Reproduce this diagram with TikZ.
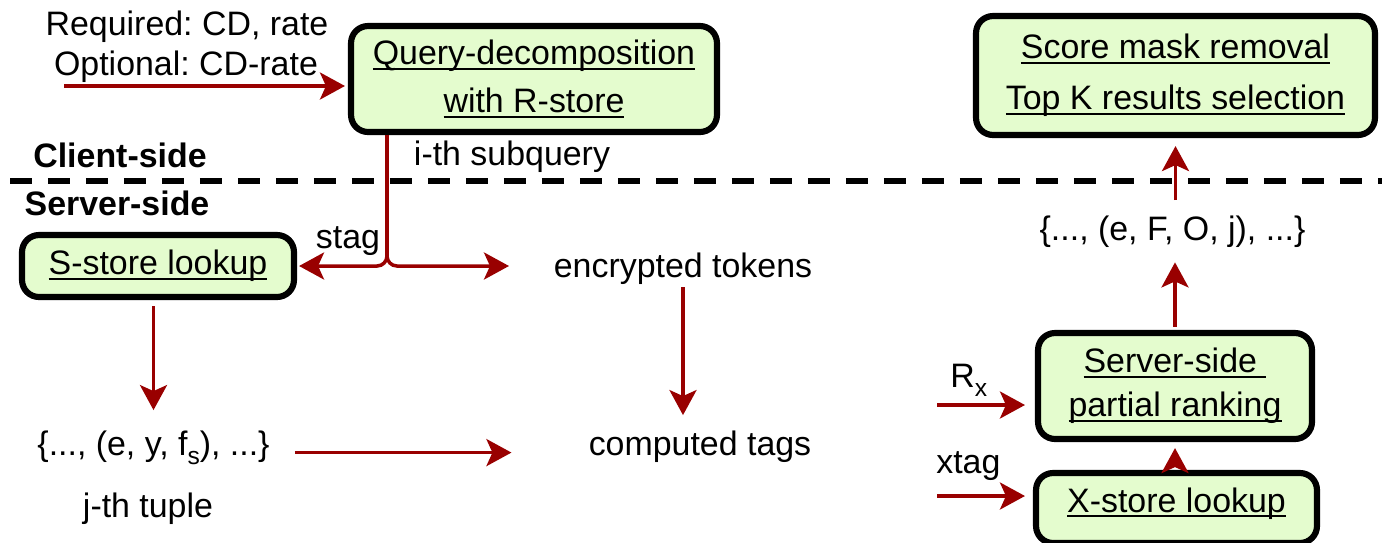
\documentclass[tikz,border=0pt]{standalone}
\usepackage{fontspec}
\setmainfont{Liberation Sans}
\usetikzlibrary{arrows.meta}
\frenchspacing
\definecolor{boxgreen}{RGB}{228,252,206}
\definecolor{arrred}{RGB}{153,0,0}
\newsavebox\ulbox
\newcommand{\ulx}[1]{\sbox\ulbox{#1}\rlap{\rule[-0.15em]{\wd\ulbox}{0.06em}}\usebox\ulbox}
\newcommand{\fsz}{\fontsize{19.3pt}{27pt}\selectfont}
\newcommand{\subx}[1]{\raisebox{-0.28em}{\fontsize{14pt}{14pt}\selectfont #1}}
\begin{document}
\begin{tikzpicture}[x=0.02cm,y=-0.02cm,
  txt/.style={font=\fsz, inner sep=0pt, anchor=base},
  boldtxt/.style={font=\fsz\bfseries, inner sep=0pt, anchor=base},
  box/.style={draw=black, line width=3.5pt, rounded corners=0.34cm, fill=boxgreen,
    align=center, inner sep=0pt, font=\fsz},
  arr/.style={draw=arrred, line width=2pt,
    -{Stealth[length=0.5cm, width=0.54cm, inset=0.12cm]}},
  divider/.style={draw=black, line width=0.12cm, dash pattern=on 0.44cm off 0.32cm}
]
\useasboundingbox (0,0) rectangle (1382,542);

% client side
\node[txt] (req) at (187,35) {Required: CD, rate};
\node[txt] (opt) at (186,75) {Optional: CD-rate};
\coordinate (qin) at (64,86);
\node[box, minimum width=7.32cm, minimum height=2.12cm] (q) at (534,79)
  {\ulx{Query-decomposition}\\[0.5pt]\ulx{with R-store}};
\draw[arr, shorten >=0.06cm] (qin) -- (qin -| q.west);

\node[box, minimum width=7.98cm, minimum height=2.38cm] (T) at (1175.5,75.5)
  {\ulx{Score mask removal}\\[2pt]\ulx{Top K results selection}};

\node[boldtxt] (client) at (120,167) {Client-side};
\node[boldtxt] (server) at (117,215) {Server-side};
\coordinate (dl) at (10,181);
\coordinate (dr) at (1382,181);
\draw[divider] (dl) -- (dr);

\node[txt] (ith) at (512,165) {i-th subquery};
\node[txt] (stag) at (348,248) {stag};

% server side
\node[box, minimum width=5.44cm, minimum height=1.24cm] (S) at (158,266)
  {\ulx{S-store lookup}};
\node[txt] (enc) at (683,277) {encrypted tokens};
\coordinate (etip) at (509,266);
\draw[arr, rounded corners=0.2cm, shorten >=0.04cm] (q.south -| 387,0) |- (S.east);
\draw[arr, rounded corners=0.2cm] (q.south -| 387,0) |- (etip);

\node[txt] (tuple) at (153.5,455) {\{..., (e, y, f\subx{s}), ...\}};
\node[txt] (jth) at (148,517) {j-th tuple};
\node[txt] (comp) at (700,455) {computed tags};

\draw[arr, shorten <=0.12cm, shorten >=0.4cm] (S.south -| tuple.north) -- (tuple.north);
\draw[arr, shorten <=0.06cm, shorten >=0.3cm] (enc.south) -- (enc.south |- comp.north);
\draw[arr, shorten <=0.5cm, shorten >=1.54cm] ([yshift=-0.1cm]tuple.east) -- ([yshift=-0.1cm]tuple.east -| comp.west);

% right side
\node[txt] (set) at (1172.5,240) {\{..., (e, F, O, j), ...\}};
\node[box, minimum width=5.48cm, minimum height=2.12cm] (P) at (1175,386)
  {\ulx{Server-side\ }\\[-2pt]\ulx{partial ranking}};
\node[box, minimum width=5.62cm, minimum height=1.4cm, text depth=0.33cm] (X) at (1176.5,508)
  {\ulx{X-store lookup}};

\draw[arr, shorten <=0.3cm, shorten >=0.16cm] (set.north -| T.south) -- (T.south);
\draw[arr, shorten <=0.06cm, shorten >=0.3cm] (P.north) -- (P.north |- set.south);
\draw[arr, shorten <=0.06cm, shorten >=0.12cm] (X.north -| P.south) -- (P.south);

\node[txt, anchor=base west] (rx) at (950,387) {R\subx{x}};
\coordinate (rxs) at (937,405);
\draw[arr, shorten >=0.2cm] (rxs) -- (rxs -| P.west);

\node[txt, anchor=base west] (xtag) at (936,473) {xtag};
\coordinate (xts) at (937,496);
\draw[arr, shorten >=0.16cm] (xts) -- (xts -| X.west);
\end{tikzpicture}
\end{document}
